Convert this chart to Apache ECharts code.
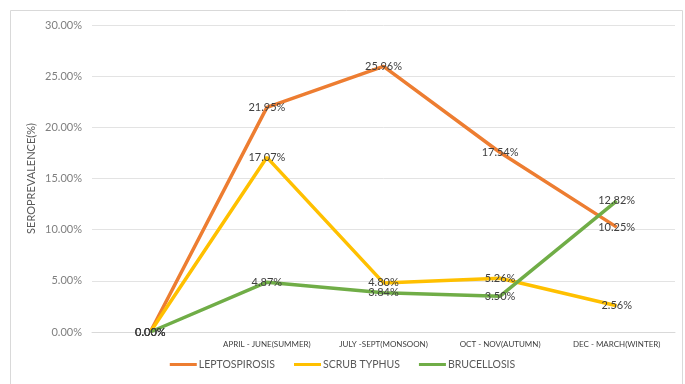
<!DOCTYPE html>
<html>
<head>
<meta charset="utf-8">
<script src="https://cdn.jsdelivr.net/npm/echarts@6/dist/echarts.min.js"></script>
<style>
html,body{margin:0;padding:0;background:#fff;}
#chart{width:685px;height:384px;}
</style>
</head>
<body>
<div id="chart"></div>
<script>
var categories = ['', 'APRIL - JUNE(SUMMER)', 'JULY -SEPT(MONSOON)', 'OCT - NOV(AUTUMN)', 'DEC - MARCH(WINTER)'];
var leptospirosis = [0, 21.95, 25.96, 17.54, 10.25];
var scrubTyphus = [0, 17.07, 4.80, 5.26, 2.56];
var brucellosis = [0, 4.87, 3.84, 3.50, 12.82];
var seriesNames = ['LEPTOSPIROSIS', 'SCRUB TYPHUS', 'BRUCELLOSIS'];
var seriesColors = ['#ED7D31', '#FFC000', '#70AD47'];
var yTicks = { min: 0, max: 30, interval: 5 };

var font = 'Lato, "Open Sans", sans-serif';
function pct(v) { return Number(v).toFixed(2) + '%'; }

function mkSeries(name, data, color) {
  return {
    name: name,
    type: 'line',
    data: data,
    symbol: 'circle',
    symbolSize: 0,
    showSymbol: true,
    lineStyle: { color: color, width: 3.5 },
    itemStyle: { color: color },
    label: {
      show: true,
      position: 'inside',
      formatter: function (p) { return pct(p.value); },
      color: '#404040',
      fontSize: 11,
      fontFamily: font
    },
    labelLayout: { hideOverlap: false },
    emphasis: { disabled: true }
  };
}

var chart = echarts.init(document.getElementById('chart'));
chart.setOption({
  animation: false,
  backgroundColor: '#fff',
  textStyle: { fontFamily: font },
  graphic: [{
    type: 'rect',
    shape: { x: 10.5, y: 10.5, width: 672, height: 390 },
    style: { fill: 'none', stroke: '#d9d9d9', lineWidth: 1 },
    silent: true
  }],
  grid: { left: 92, right: 10, top: 25, bottom: 52 },
  legend: {
    data: seriesNames,
    left: 'center',
    top: 354,
    icon: 'rect',
    itemWidth: 27,
    itemHeight: 3,
    itemGap: 19,
    textStyle: { color: '#595959', fontSize: 10.5, fontFamily: font, padding: [0, 0, 0, -3] }
  },
  xAxis: {
    type: 'category',
    data: categories,
    boundaryGap: true,
    axisTick: { show: false },
    axisLine: { lineStyle: { color: '#d9d9d9', width: 1 } },
    axisLabel: { color: '#404040', fontSize: 8, fontFamily: font, margin: 8, interval: 0 },
    splitLine: { show: false }
  },
  yAxis: {
    type: 'value',
    min: yTicks.min,
    max: yTicks.max,
    interval: yTicks.interval,
    name: 'SEROPREVALENCE(%)',
    nameLocation: 'middle',
    nameGap: 55,
    nameMoveOverlap: false,
    nameTextStyle: { color: '#595959', fontSize: 11, fontFamily: font },
    axisLine: { show: false },
    axisTick: { show: false },
    axisLabel: { color: '#7f7f7f', fontSize: 11, fontFamily: font, margin: 10, formatter: function (v) { return pct(v); } },
    splitLine: { lineStyle: { color: '#e3e3e3', width: 1 } }
  },
  series: [
    mkSeries(seriesNames[0], leptospirosis, seriesColors[0]),
    mkSeries(seriesNames[1], scrubTyphus, seriesColors[1]),
    mkSeries(seriesNames[2], brucellosis, seriesColors[2])
  ]
});
</script>
</body>
</html>
